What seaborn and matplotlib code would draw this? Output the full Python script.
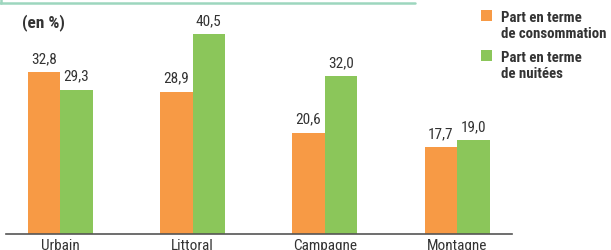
import matplotlib
matplotlib.use("Agg")
from matplotlib import pyplot as plt
from matplotlib.lines import Line2D
from matplotlib.ticker import FixedLocator
import pandas as pd
import seaborn as sns

# data
categories = ["Urbain", "Littoral", "Campagne", "Montagne"]
series_names = ["Part en terme\nde consommation", "Part en terme\nde nuitées"]
conso = [32.8, 28.9, 20.6, 17.7]
nuitees = [29.3, 40.5, 32.0, 19.0]
colors = ["#f79a45", "#8bc65a"]

df = pd.DataFrame({
    "zone": categories * 2,
    "serie": [series_names[0]] * 4 + [series_names[1]] * 4,
    "part": conso + nuitees,
})

sns.set_style("white")
plt.rcParams["font.family"] = ["Roboto Condensed", "DejaVu Sans"]
plt.rcParams["font.stretch"] = "condensed"
txt_col = "#333333"

W, H = 611, 251
fig = plt.figure(figsize=(W / 100, H / 100), dpi=100)
ax = fig.add_axes([6 / W, 16 / H, 506 / W, 235 / H])

sns.barplot(data=df, x="zone", y="part", hue="serie", order=categories,
            hue_order=series_names, palette=colors, width=0.49,
            saturation=1, linewidth=0, ax=ax, legend=True)

for cont in ax.containers:
    ax.bar_label(cont, labels=[f"{b.get_height():.1f}".replace(".", ",") for b in cont],
                 padding=5, fontsize=11, color=txt_col)

ax.set_xlim(-0.41, 3.415)
ax.set_ylim(0, 47.7)
ax.set_xlabel("")
ax.set_ylabel("")
ax.set_yticks([])
for s in ["left", "top", "right"]:
    ax.spines[s].set_visible(False)
ax.spines["bottom"].set_color("#555555")
ax.spines["bottom"].set_linewidth(1.2)
ax.tick_params(axis="x", which="major", length=0, pad=3, labelsize=11, labelcolor=txt_col)
ax.xaxis.set_minor_locator(FixedLocator([0.5, 1.5, 2.5]))
ax.tick_params(axis="x", which="minor", length=3, width=1, color="#555555", direction="out")


def make_legend(size):
    px = size * 100 / 72
    lg = ax.legend(loc="upper left", bbox_to_anchor=(481 / W, 1 - 11 / H),
                   bbox_transform=fig.transFigure, frameon=False, borderpad=0,
                   borderaxespad=0, handlelength=11 / px, handleheight=11 / px,
                   handletextpad=9 / px, labelspacing=0.65,
                   prop={"size": size, "weight": "bold"})
    for t in lg.get_texts():
        t.set_color(txt_col)
    # carré aligné sur la première ligne du libellé
    for col in lg._legend_handle_box.get_children():
        for row in col.get_children():
            row.align = "top"
    return lg


# largeur du libellé le plus long ~106 px comme sur l'original
leg = make_legend(10)
fig.canvas.draw()
r = fig.canvas.get_renderer()
w = max(t.get_window_extent(r).width for t in leg.get_texts())
leg = make_legend(10 * 106 / w)

unit = fig.text(22 / W, 1 - 14 / H, "(en %)", ha="left", va="top", fontsize=11,
                weight="bold", color=txt_col)
fig.canvas.draw()
uw = unit.get_window_extent(r).width
unit.set_fontsize(11 * 43 / uw)

# cadre du titre en haut
box_col = "#9dd6be"
fig.add_artist(Line2D([0, 415 / W], [1 - 4 / H, 1 - 4 / H], color=box_col, lw=1.8))
fig.add_artist(Line2D([1 / W, 1 / W], [1, 1 - 4 / H], color=box_col, lw=1.8))

fig.savefig("out.png", dpi=100)
